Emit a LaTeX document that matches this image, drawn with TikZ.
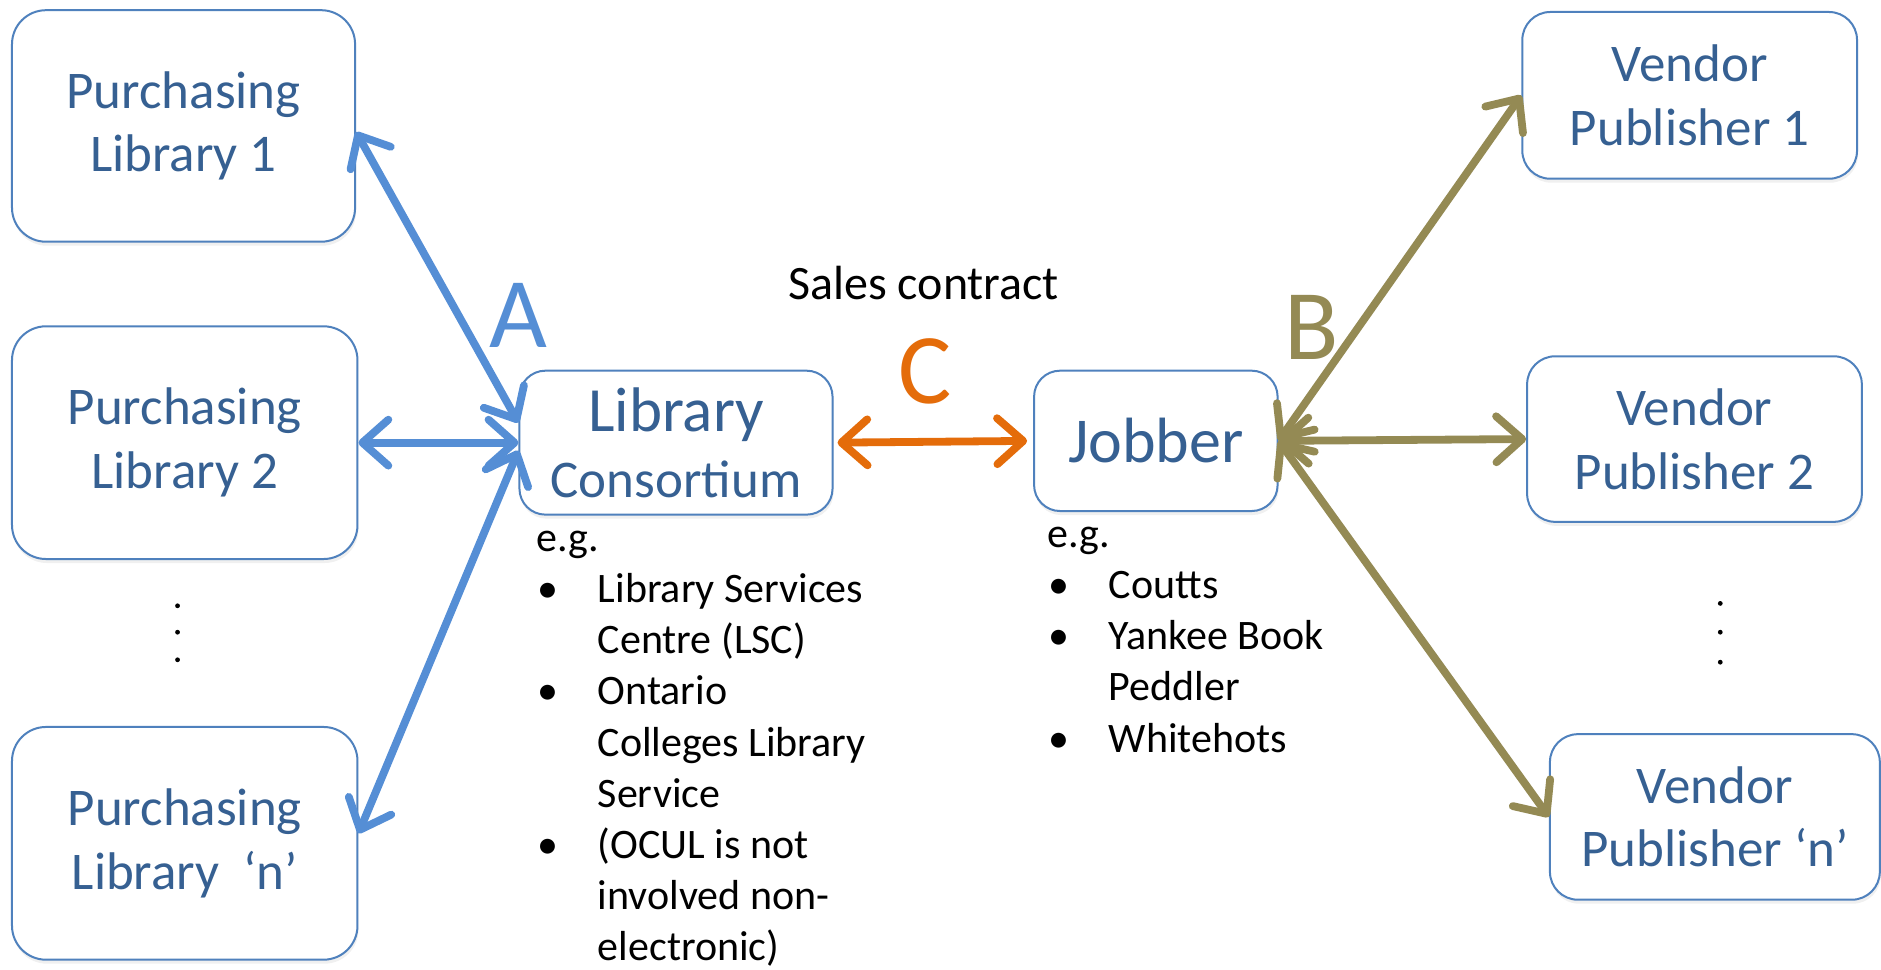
\documentclass[tikz,border=0pt]{standalone}
\usepackage{fontspec}
\setmainfont{Carlito}
\usetikzlibrary{arrows.meta,shadows}

\definecolor{boxtext}{RGB}{54,96,146}
\definecolor{boxline}{RGB}{79,129,189}
\definecolor{linkA}{RGB}{85,142,213}
\definecolor{linkC}{RGB}{228,108,10}
\definecolor{linkB}{RGB}{148,138,84}

\newcommand\bul{\makebox[30.6pt][l]{\hspace{0.5pt}•}}
\newcommand\ind{\hspace*{30.6pt}}

\tikzset{
  party/.style={draw=boxline, line width=1pt, fill=white, rounded corners=17pt,
    align=center, text=boxtext, inner sep=0pt,
    font=\fontsize{26.5}{31.8}\selectfont,
    drop shadow={opacity=0.12, shadow xshift=0.5pt, shadow yshift=-2pt}},
  barb/.tip={Straight Barb[length=13pt,width=23pt,round]},
  link/.style={line width=3.9pt, line cap=round, barb-barb},
  notes/.style={align=left, inner sep=0pt, text=black,
    font=\fontsize{21}{25.6}\selectfont},
  letter/.style={inner sep=0pt, font=\fontsize{50}{60}\selectfont},
}

\begin{document}
\begin{tikzpicture}[x=0.6pt, y=-0.6pt]
  \useasboundingbox (0,0) rectangle (1568,808);

  % purchasing libraries
  \node[party, minimum width=171.6pt, minimum height=115.8pt] (pl1) at (153,105)
    {Purchasing\\Library 1};
  \node[party, minimum width=172.8pt, minimum height=116.4pt] (pl2) at (154,369)
    {Purchasing\\Library 2};
  \node[party, minimum width=172.8pt, minimum height=116.4pt] (pln) at (154,703)
    {Purchasing\\Library\ \ ‘n’};

  % consortium and jobber
  \node[party, minimum width=156.6pt, minimum height=72pt, rounded corners=13pt] (lc) at (563.5,369)
    {{\fontsize{31.5}{33}\selectfont Library}\\[1pt]{\fontsize{26.5}{33}\selectfont Consortium}};
  \node[party, minimum width=121.8pt, minimum height=70.2pt, rounded corners=13pt,
    font=\fontsize{32}{38}\selectfont] (job) at (963.5,367.5) {Jobber};

  % vendors
  \node[party, minimum width=167.4pt, minimum height=83.4pt, rounded corners=14pt] (vp1) at (1408.5,79.5)
    {Vendor\\Publisher 1};
  \node[party, minimum width=167.4pt, minimum height=82.8pt, rounded corners=14pt] (vp2) at (1412.5,366)
    {Vendor\\Publisher 2};
  \node[party, minimum width=165pt, minimum height=82.8pt, rounded corners=14pt] (vpn) at (1429.5,681)
    {Vendor\\Publisher ‘n’};

  % ellipsis dots
  \foreach \yy in {505,527,550} \fill (148,\yy) circle (1.2pt);
  \foreach \yy in {503,527,552} \fill (1434,\yy) circle (1.2pt);

  % links A: libraries to consortium
  \draw[link, linkA] ([yshift=-3pt]pl1.east) -- ([yshift=10pt]lc.west);
  \draw[link, linkA] (pl2.east) -- (lc.west);
  \draw[link, linkA] ([yshift=5pt]pln.east) -- ([yshift=-4pt]lc.west);

  % link C: consortium to jobber
  \draw[link, linkC, shorten <=2pt, shorten >=3pt] (lc.east) -- (job.west);

  % links B: jobber to vendors
  \draw[link, linkB] (job.east) -- (vp1.west);
  \draw[link, linkB] (job.east) -- (vp2.west);
  \draw[link, linkB] (job.east) -- (vpn.west);

  % link letters
  \node[letter, text=linkA, anchor=base] (la) at (432,290) {A};
  \node[letter, text=linkC, anchor=base] (lcc) at (771,336) {C};
  \node[letter, text=linkB, anchor=base] (lb) at (1093,300) {B};
  \node[anchor=base, inner sep=0pt, font=\fontsize{24}{29}\selectfont] (sales) at (770,250) {Sales contract};

  % examples (anchored at the baseline of the last line)
  \node[notes, anchor=base west] (lcnotes) at (447,801)
    {e.g.\\
     \bul Library Services\\
     \ind Centre (LSC)\\
     \bul Ontario\\
     \ind Colleges Library\\
     \ind Service\\
     \bul (OCUL is not\\
     \ind involved non-\\
     \ind electronic)};
  \node[notes, anchor=base west] (jobnotes) at (873,627)
    {e.g.\\
     \bul Coutts\\
     \bul Yankee Book\\
     \ind Peddler\\
     \bul Whitehots};
\end{tikzpicture}
\end{document}
